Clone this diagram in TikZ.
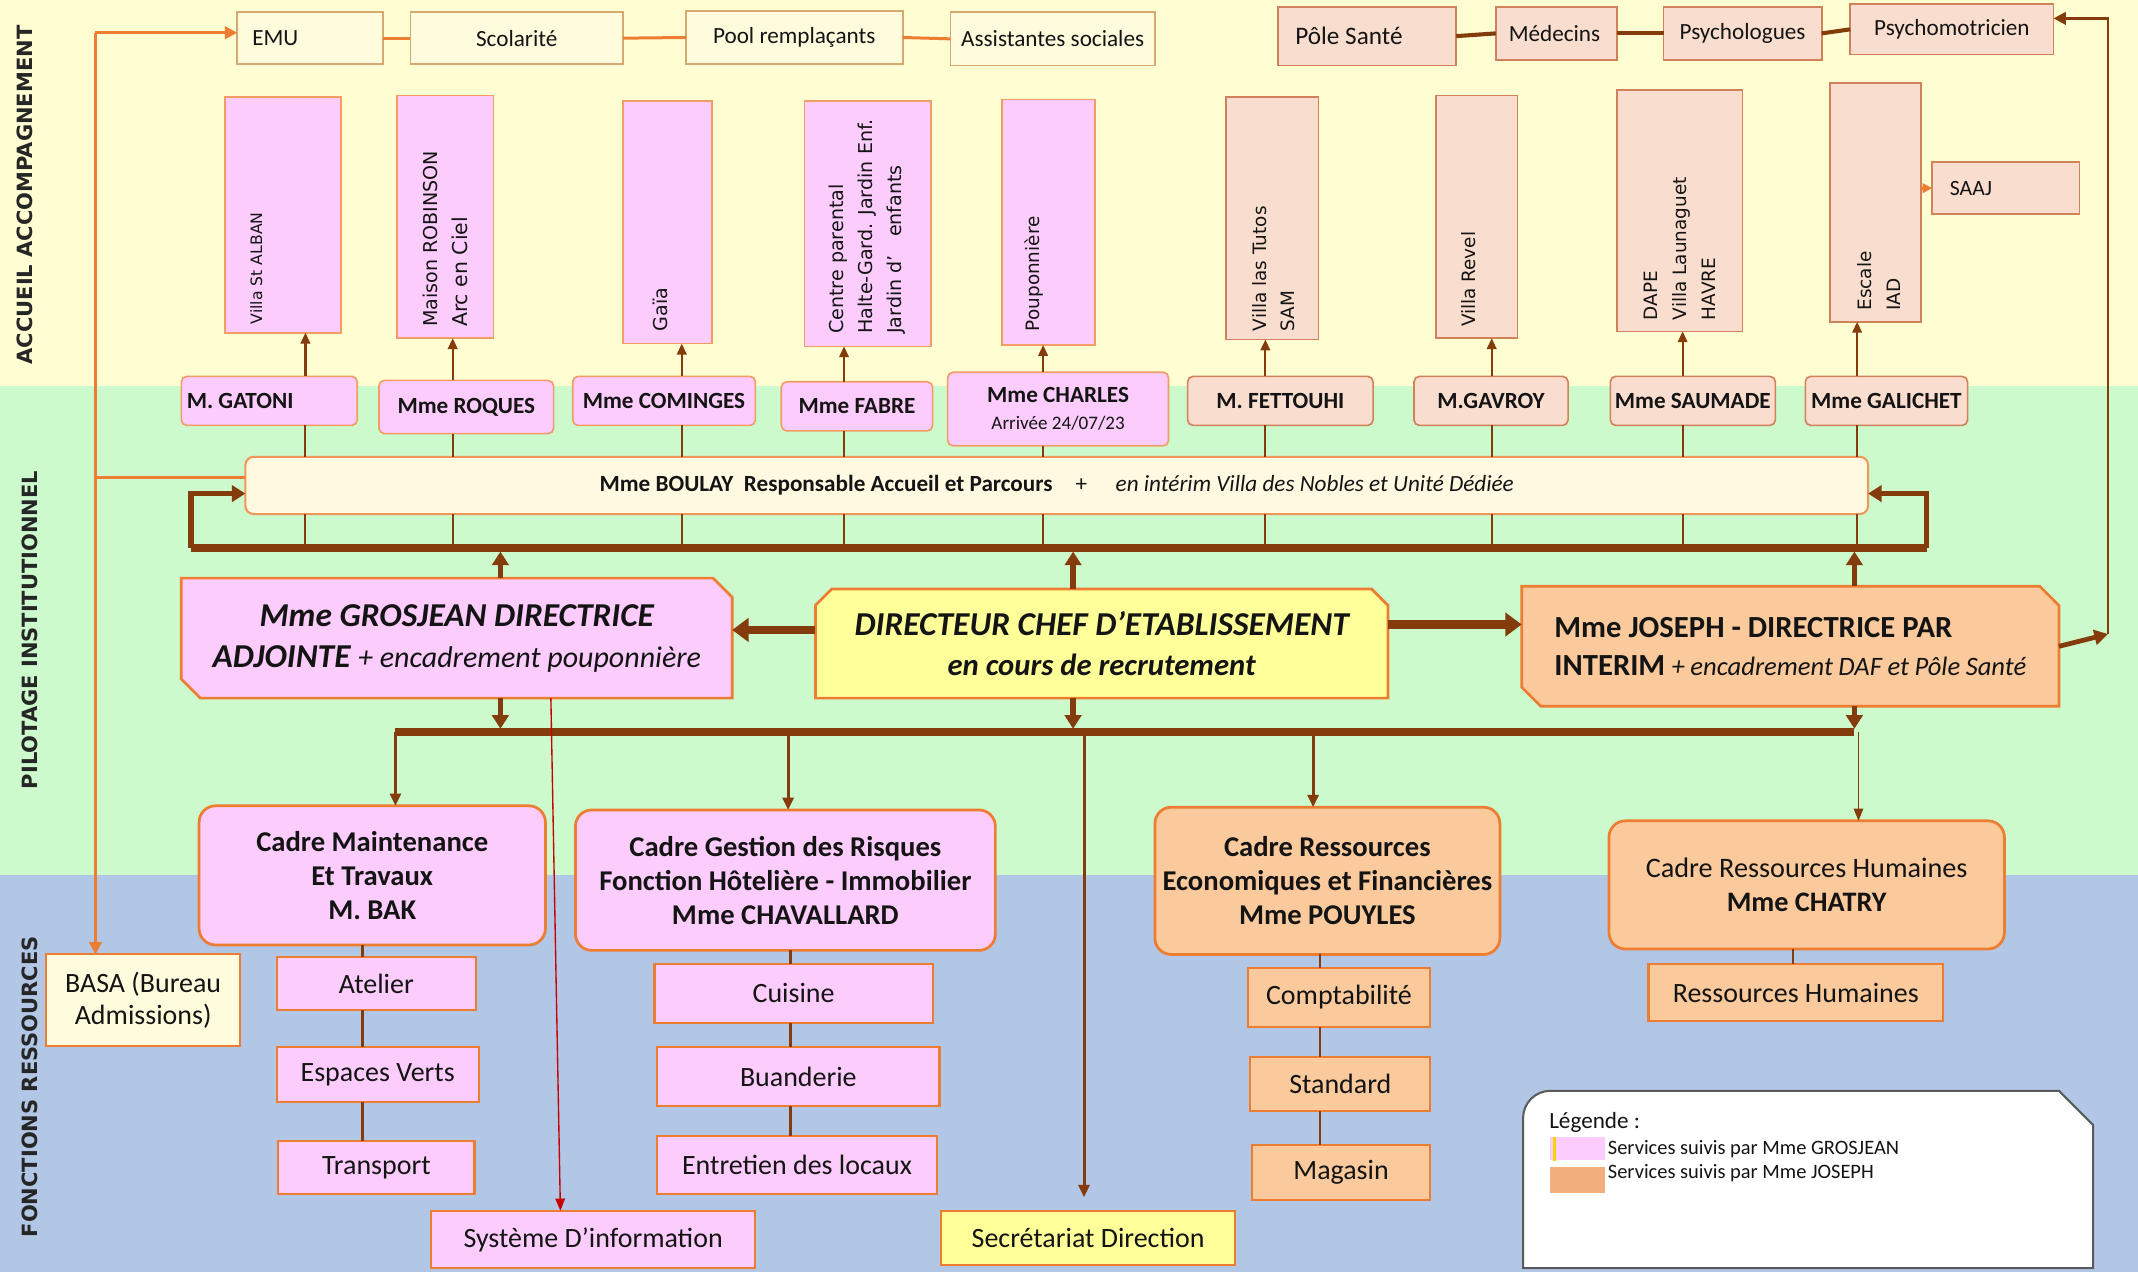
\documentclass[tikz,border=0pt]{standalone}
\usepackage{fontspec}
\setmainfont{Carlito}
\newfontfamily\vsans{DejaVu Sans}
\usetikzlibrary{arrows.meta}
\pgfdeclarelayer{bands}
\pgfdeclarelayer{bg}
\pgfsetlayers{bands,bg,main}
\definecolor{bandY}{RGB}{255,253,210}
\definecolor{bandG}{RGB}{204,250,204}
\definecolor{bandB}{RGB}{178,198,230}
\definecolor{pinkF}{RGB}{252,204,252}
\definecolor{peachL}{RGB}{249,221,206}
\definecolor{peachS}{RGB}{250,201,156}
\definecolor{legP}{RGB}{240,175,125}
\definecolor{yelF}{RGB}{255,255,153}
\definecolor{creamF}{RGB}{255,252,222}
\definecolor{boulF}{RGB}{255,249,226}
\definecolor{brownL}{RGB}{132,60,12}
\definecolor{orangeL}{RGB}{237,125,49}
\definecolor{tanB}{RGB}{214,170,110}
\definecolor{peachB}{RGB}{210,130,90}
\definecolor{redL}{RGB}{200,0,0}
\definecolor{txt}{RGB}{20,20,20}
\definecolor{legB}{RGB}{90,90,90}
\begin{document}
\begin{tikzpicture}[x=1pt,y=-1pt,
  every node/.style={text=txt},
  box/.style={draw, inner sep=0pt, outer sep=0pt, align=center},
  topY/.style={box, fill=creamF, draw=tanB, line width=1.3pt, font=\fontsize{17}{20}\selectfont},
  topP/.style={box, fill=peachL, draw=peachB, line width=1.3pt, font=\fontsize{17}{20}\selectfont},
  vpink/.style={box, line width=1.2pt, fill=pinkF, draw=orangeL!75},
  vpeach/.style={box, line width=1.2pt, fill=peachL, draw=peachB},
  vtxt/.style={rotate=90, anchor=west, inner sep=0pt, align=left, font=\vsans\fontsize{13.5}{21}\selectfont},
  mgr/.style={box, rounded corners=4pt, line width=1.2pt, font=\bfseries\fontsize{17}{20}\selectfont},
  mpink/.style={mgr, fill=pinkF, draw=orangeL!75},
  mpeach/.style={mgr, fill=peachL, draw=peachB},
  thinar/.style={draw=brownL, line width=1.6pt, -{Triangle[length=8pt,width=7pt]}},
  vline/.style={draw=brownL, line width=1.4pt},
  bar/.style={draw=brownL, line width=5.5pt},
  barar/.style={draw=brownL, line width=4pt, -{Triangle[length=10pt,width=12pt]}},
  bigar/.style={draw=brownL, line width=6pt, -{Triangle[length=12pt,width=17pt]}},
  downar/.style={draw=brownL, line width=2.2pt, -{Triangle[length=9pt,width=8pt]}},
  plain/.style={inner sep=0pt, outer sep=0pt, align=center},
  cadre/.style={box, rounded corners=12pt, line width=2pt, draw=orangeL, font=\bfseries\fontsize{21}{25}\selectfont},
  sub/.style={box, line width=1.5pt, draw=orangeL, font=\fontsize{20.5}{23}\selectfont},
  oline/.style={draw=orangeL, line width=2.2pt},
  band/.style={rotate=90, inner sep=0pt, font=\vsans\bfseries\fontsize{15.4}{18}\selectfont, text=black!85}
]
\useasboundingbox (0,0) rectangle (1568,933);
\begin{pgfonlayer}{bands}
\fill[bandY] (0,0) rectangle (1568,283);
\fill[bandG] (0,283) rectangle (1568,642);
\fill[bandB] (0,642) rectangle (1568,933);
\end{pgfonlayer}

% band labels
\node[band] (lab1) at (18,143) {ACCUEIL ACCOMPAGNEMENT};
\node[band] (lab2) at (22,462) {PILOTAGE INSTITUTIONNEL};
\node[band] (lab3) at (22,797) {FONCTIONS RESSOURCES};

% top row
\node[topY, minimum width=107pt, minimum height=38pt, text width=85pt, align=flush left] (emu) at (227.5,28) {EMU};
\node[topY, minimum width=156pt, minimum height=38pt] (scol) at (379,28) {Scolarité};
\node[topY, minimum width=159pt, minimum height=39pt] (pool) at (582.5,27.5) {Pool remplaçants};
\node[topY, minimum width=150pt, minimum height=39pt] (assist) at (772,28.5) {Assistantes sociales};
\node[topP, minimum width=131pt, minimum height=43pt, text width=105pt, align=flush left, font=\fontsize{18.5}{21}\selectfont] (pole) at (1002.5,26.5) {Pôle Santé};
\node[topP, minimum width=89pt, minimum height=39pt, text width=70pt, align=flush left] (med) at (1141.5,24.5) {Médecins};
\node[topP, minimum width=116pt, minimum height=39pt] (psy) at (1278,24.5) {Psychologues};
\node[topP, minimum width=149pt, minimum height=37pt] (psymo) at (1431.5,21.5) {Psychomotricien};
\draw[oline] (emu.east) -- (scol.west);
\draw[oline] (scol.east) -- (pool.west);
\draw[oline] (pool.east) -- (assist.west);
\draw[draw=brownL, line width=3pt] (pole.east) -- (med.west);
\draw[draw=brownL, line width=3pt] (med.east) -- (psy.west);
\draw[draw=brownL, line width=3pt] (psy.east) -- (psymo.west);

% vertical service boxes
\node[vpink, minimum width=85pt, minimum height=173pt] (v1) at (207.5,157.5) {};
\node[vpink, minimum width=71pt, minimum height=178pt] (v2) at (326.5,159) {};
\node[vpink, minimum width=65pt, minimum height=178pt] (v3) at (489.5,163) {};
\node[vpink, minimum width=93pt, minimum height=180pt] (v4) at (636.5,164) {};
\node[vpink, minimum width=68pt, minimum height=180pt] (v5) at (769,163) {};
\node[vpeach, minimum width=68pt, minimum height=178pt] (v6) at (933,160) {};
\node[vpeach, minimum width=60pt, minimum height=178pt] (v7) at (1083,159) {};
\node[vpeach, minimum width=92pt, minimum height=177pt] (v8) at (1232,154.5) {};
\node[vpeach, minimum width=67pt, minimum height=175pt] (v9) at (1375.5,148.5) {};
\node[topP, minimum width=108pt, minimum height=38pt, text width=82pt, align=flush left, font=\fontsize{16}{19}\selectfont] (saaj) at (1471,138) {SAAJ};
\draw[oline, -{Triangle[length=7pt,width=7pt]}] (v9.east |- saaj.west) -- (saaj.west);

\node[vtxt, font=\vsans\fontsize{11.5}{14}\selectfont] (t1) at (188,238) {Villa St ALBAN};
\node[vtxt, font=\vsans\fontsize{14}{22}\selectfont] (t2) at (327,240) {Maison ROBINSON\\{\fontsize{15}{22}\selectfont Arc en Ciel}};
\node[vtxt, font=\vsans\fontsize{14}{21}\selectfont] (t3) at (484,243) {Gaïa};
\node[vtxt, font=\vsans\fontsize{14}{21}\selectfont] (t4) at (636,245) {Centre parental\\Halte-Gard. Jardin Enf.\\Jardin d’~~~enfants};
\node[vtxt] (t5) at (758,243) {Pouponnière};
\node[vtxt] (t6) at (934,243) {Villa las Tutos\\SAM};
\node[vtxt] (t7) at (1077,240) {Villa Revel};
\node[vtxt] (t8) at (1232,235) {DAPE\\Villa Launaguet\\HAVRE};
\node[vtxt] (t9) at (1378,228) {Escale\\IAD};

% managers
\node[mpink, minimum width=129pt, minimum height=36pt, text width=121pt, align=flush left] (m1) at (197.5,294) {M. GATONI};
\node[mpink, minimum width=128pt, minimum height=39pt] (m2) at (342,298.5) {Mme ROQUES};
\node[mpink, minimum width=134pt, minimum height=36pt] (m3) at (487,294) {Mme COMINGES};
\node[mpink, minimum width=111pt, minimum height=36pt] (m4) at (628.5,298) {Mme FABRE};
\node[mpink, minimum width=162pt, minimum height=54pt] (m5) at (776,300) {Mme CHARLES\\{\mdseries\fontsize{14}{17}\selectfont Arrivée 24/07/23}};
\node[mpeach, minimum width=136pt, minimum height=36pt] (m6) at (939,294) {M. FETTOUHI};
\node[mpeach, minimum width=113pt, minimum height=36pt] (m7) at (1093.5,294) {M.GAVROY};
\node[mpeach, minimum width=121pt, minimum height=36pt] (m8) at (1241.5,294) {Mme SAUMADE};
\node[mpeach, minimum width=119pt, minimum height=36pt] (m9) at (1383.5,294) {Mme GALICHET};

% Boulay
\node[box, rounded corners=6pt, fill=boulF, draw=orangeL!80, line width=1.5pt, minimum width=1190pt, minimum height=42pt, font=\fontsize{17}{20}\selectfont] (boulay) at (775,356)
 {{\bfseries Mme BOULAY\ \ Responsable Accueil et Parcours}\quad+\quad\ {\itshape en intérim Villa des Nobles et Unité Dédiée}};

\coordinate (bl) at (140,402);
\coordinate (br) at (1413,402);
\draw[bar] (bl) -- (br);
\draw[barar] (bl) |- ([yshift=-6pt]boulay.west);
\draw[barar] (br) |- ([yshift=-6pt]boulay.east);

\foreach \m/\v/\xx in {m1/v1/224, m2/v2/332, m3/v3/500, m4/v4/619, m5/v5/765, m6/v6/928, m7/v7/1094, m8/v8/1234, m9/v9/1362}{
  \coordinate (ax) at (\xx,0);
  \draw[thinar] (\m.north -| ax) -- (\v.south -| ax);
  \draw[vline] (\m.south -| ax) -- (boulay.north -| ax);
  \draw[vline] (boulay.south -| ax) -- (bl -| ax);
}

% direction boxes
\node[plain, minimum width=404pt, minimum height=88pt, font=\fontsize{24.5}{30}\selectfont] (gros) at (335,468)
 {{\bfseries\itshape Mme GROSJEAN DIRECTRICE}\\{\bfseries\itshape ADJOINTE} {\itshape\fontsize{22}{30}\selectfont + encadrement pouponnière}};
\node[plain, minimum width=420pt, minimum height=80pt, font=\fontsize{24.5}{29}\selectfont] (dir) at (808,472)
 {{\bfseries\itshape DIRECTEUR CHEF D’ETABLISSEMENT}\\{\bfseries\itshape\fontsize{22.5}{29}\selectfont en cours de recrutement}};
\node[plain, minimum width=394pt, minimum height=88pt, text width=346pt, align=flush left, font=\fontsize{22.5}{28}\selectfont] (jos) at (1313,474)
 {{\bfseries Mme JOSEPH - DIRECTRICE PAR}\\{\bfseries INTERIM} {\itshape\fontsize{19.5}{28}\selectfont + encadrement DAF et Pôle Santé}};
\begin{pgfonlayer}{bg}
\filldraw[fill=pinkF, draw=orangeL, line width=2pt] (gros.north west) -- ([xshift=-14pt]gros.north east) -- ([yshift=-14pt]gros.north east) -- (gros.south east) -- ([xshift=14pt]gros.south west) -- ([yshift=14pt]gros.south west) -- cycle;
\filldraw[fill=yelF, draw=orangeL, line width=2pt] ([xshift=12pt]dir.north west) -- ([xshift=-12pt]dir.north east) -- ([yshift=-12pt]dir.north east) -- (dir.south east) -- (dir.south west) -- ([yshift=-12pt]dir.north west) -- cycle;
\filldraw[fill=peachS, draw=orangeL, line width=2pt] (jos.north west) -- ([xshift=-14pt]jos.north east) -- ([yshift=-14pt]jos.north east) -- (jos.south east) -- ([xshift=14pt]jos.south west) -- ([yshift=14pt]jos.south west) -- cycle;
\end{pgfonlayer}

\coordinate (gx) at ([xshift=32pt]gros.north);
\coordinate (gxs) at ([xshift=32pt]gros.south);
\coordinate (dx) at ([xshift=-21pt]dir.north);
\coordinate (dxs) at ([xshift=-21pt]dir.south);
\coordinate (jx) at ([xshift=47pt]jos.north);
\coordinate (jxs) at ([xshift=47pt]jos.south);
\coordinate (lbl) at (290,537);
\coordinate (lbr) at (1360,537);
\draw[barar, shorten >=2.5pt] (gx) -- (gx |- bl);
\draw[barar, shorten >=2.5pt] (dx) -- (dx |- bl);
\draw[barar, shorten >=2.5pt] (jx) -- (jx |- bl);
\draw[barar, shorten >=2.5pt] (gxs) -- (gxs |- lbl);
\draw[barar, shorten >=2.5pt] (dxs) -- (dxs |- lbl);
\draw[barar, shorten >=2.5pt] (jxs) -- (jxs |- lbl);
\draw[bar] (lbl) -- (lbr);

\coordinate (dl) at ([yshift=10pt]dir.west);
\coordinate (dr) at ([yshift=14pt]dir.east);
\draw[bigar] (dl) -- (dl -| gros.east);
\draw[bigar] (dr) -- (dr -| jos.west);

% right brown link to Pole Sante
\coordinate (rt) at (1546,465);
\coordinate (pme) at ([yshift=8pt]psymo.east);
\draw[draw=brownL, line width=3.5pt, -{Triangle[length=10pt,width=11pt]}] (jos.east) -- (rt);
\draw[draw=brownL, line width=2pt, -{Triangle[length=9pt,width=9pt]}] (rt) |- (pme);

% cadres
\node[cadre, fill=pinkF, minimum width=254pt, minimum height=102pt] (cm) at (273,642)
 {Cadre Maintenance\\Et Travaux\hspace*{60pt}\\M. BAK};
\node[cadre, fill=pinkF, minimum width=308pt, minimum height=103pt] (cg) at (576,645.5)
 {Cadre Gestion des Risques\\Fonction Hôtelière - Immobilier\\Mme CHAVALLARD};
\node[cadre, fill=peachS, minimum width=253pt, minimum height=108pt] (cr) at (973.5,646)
 {Cadre Ressources\\Economiques et Financières\\Mme POUYLES};
\node[cadre, fill=peachS, minimum width=290pt, minimum height=94pt, font=\fontsize{20.7}{25}\selectfont] (crh) at (1325,649)
 {Cadre Ressources Humaines\\{\bfseries Mme CHATRY}};

% sub boxes
\node[sub, fill=pinkF, minimum width=146pt, minimum height=39pt] (at) at (276,721.5) {Atelier};
\node[sub, fill=pinkF, minimum width=148pt, minimum height=40pt] (ev) at (277,788) {Espaces Verts};
\node[sub, fill=pinkF, minimum width=144pt, minimum height=39pt] (tr) at (276,856.5) {Transport};
\node[sub, fill=pinkF, minimum width=204pt, minimum height=43pt] (cu) at (582,728.5) {Cuisine};
\node[sub, fill=pinkF, minimum width=207pt, minimum height=43pt] (bu) at (585.5,789.5) {Buanderie};
\node[sub, fill=pinkF, minimum width=205pt, minimum height=43pt] (en) at (584.5,854.5) {Entretien des locaux};
\node[sub, fill=peachS, minimum width=134pt, minimum height=43pt] (co) at (982,731.5) {Comptabilité};
\node[sub, fill=peachS, minimum width=132pt, minimum height=40pt] (st) at (983,795) {Standard};
\node[sub, fill=peachS, minimum width=131pt, minimum height=40pt] (ma) at (983.5,860) {Magasin};
\node[sub, fill=peachS, minimum width=216pt, minimum height=42pt] (rh) at (1317,728) {Ressources Humaines};
\node[sub, fill=creamF, minimum width=142pt, minimum height=67pt, font=\fontsize{20.5}{24}\selectfont] (basa) at (105,733.5) {BASA (Bureau\\Admissions)};
\node[sub, fill=pinkF, minimum width=238pt, minimum height=42pt] (si) at (435,909) {Système D’information};
\node[sub, fill=yelF, minimum width=216pt, minimum height=40pt, font=\fontsize{20.5}{23}\selectfont] (sec) at (798,908) {Secrétariat Direction};

\coordinate (b2) at (578,537);
\coordinate (b3) at (795,537);
\coordinate (b4) at (963,537);
\coordinate (b5) at (1363,537);
\draw[downar] (lbl) -- (lbl |- cm.north);
\draw[downar] (b2) -- (b2 |- cg.north);
\draw[downar, shorten >=10pt] (b3) -- (b3 |- sec.north);
\draw[downar] (b4) -- (b4 |- cr.north);
\draw[draw=brownL, line width=1.1pt, -{Triangle[length=9pt,width=7pt]}] (b5) -- (b5 |- crh.north);

\foreach \a/\b/\xx in {cm/at/266, at/ev/266, ev/tr/266, cg/cu/580, cu/bu/580, bu/en/580, cr/co/968, co/st/968, st/ma/968, crh/rh/1315}{
  \coordinate (sx) at (\xx,0);
  \draw[draw=brownL, line width=2pt] (\a.south -| sx) -- (\b.north -| sx);
}

% red arrow
\coordinate (r1) at ([xshift=69pt]gros.south);
\coordinate (r2) at ([xshift=-24pt]si.north);
\draw[draw=redL, line width=1pt, -{Triangle[length=9pt,width=7pt]}] (r1) -- (r2);

% left orange link
\coordinate (lo) at (70,24);
\draw[oline, -{Triangle[length=9pt,width=9pt]}] (lo) -- (lo -| emu.west);
\draw[oline, -{Triangle[length=9pt,width=9pt]}] (lo) -- (lo |- basa.north);
\draw[oline] ([yshift=6pt]boulay.west) -- ([yshift=6pt]boulay.west -| lo);

% legend
\node[plain, minimum width=418pt, minimum height=130pt] (leg) at (1326,865) {};
\begin{pgfonlayer}{bg}
\filldraw[fill=white, draw=legB, line width=1.5pt] ([yshift=-20pt]leg.north west) arc[start angle=180, end angle=90, radius=20pt] -- ([xshift=-25pt]leg.north east) -- ([yshift=-25pt]leg.north east) -- (leg.south east) -- (leg.south west) -- cycle;
\end{pgfonlayer}
\node[anchor=west, inner sep=0pt, font=\fontsize{17}{20}\selectfont] (legt) at (1136,823) {Légende :};
\node[fill=pinkF, minimum width=40pt, minimum height=17pt, inner sep=0pt] (sw1) at (1157,842.5) {};
\node[fill=legP, minimum width=40pt, minimum height=19pt, inner sep=0pt] (sw2) at (1157,865.5) {};
\fill[yellow!70!orange] ([xshift=2pt]sw1.north west) rectangle ([xshift=4pt]sw1.south west);
\node[anchor=west, inner sep=0pt, font=\fontsize{15}{18}\selectfont] (l1) at (1179,843) {Services suivis par Mme GROSJEAN};
\node[anchor=west, inner sep=0pt, font=\fontsize{15}{18}\selectfont] (l2) at (1179,860) {Services suivis par Mme JOSEPH};
\end{tikzpicture}
\end{document}
